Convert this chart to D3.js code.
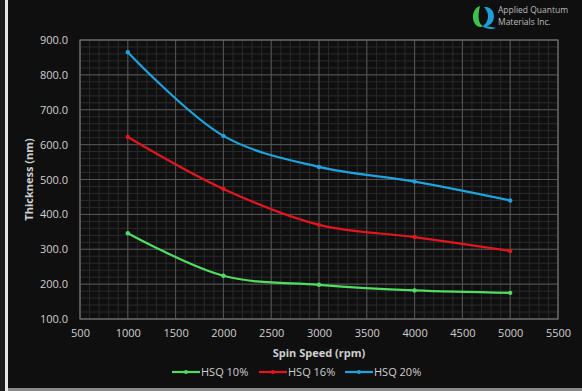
<!DOCTYPE html>
<html>
<head>
<meta charset="utf-8">
<script src="https://cdn.jsdelivr.net/npm/d3@7"></script>
<style>
  body { margin: 0; background: #0f0f0f; }
  svg { display: block; }
  text { font-family: "Open Sans", "Noto Sans", sans-serif; fill: #cfcfcf; }
</style>
</head>
<body>
<div id="chart"></div>
<script>
// data
const speeds = [1000, 2000, 3000, 4000, 5000];
const hsq10 = [346, 224, 198, 182, 175];
const hsq16 = [622, 473, 370, 335, 295];
const hsq20 = [865, 625, 536, 494, 440];
const seriesNames = ['HSQ 10%', 'HSQ 16%', 'HSQ 20%'];
const xTicks = [500, 1000, 1500, 2000, 2500, 3000, 3500, 4000, 4500, 5000, 5500];
const yTicks = [100, 200, 300, 400, 500, 600, 700, 800, 900];

const width = 582, height = 391;
const margin = { top: 40, right: 24, bottom: 72, left: 80 };
const colors = ['#52dc62', '#e3161e', '#1ea3dc'];

const svg = d3.select('#chart').append('svg')
  .attr('width', width)
  .attr('height', height);

// background + left frame strip
svg.append('rect').attr('width', width).attr('height', height).attr('fill', '#0f0f0f');
svg.append('rect').attr('x', 0).attr('y', 0).attr('width', 5).attr('height', height).attr('fill', '#1b1b1b');
svg.append('rect').attr('x', 5).attr('y', 0).attr('width', 3).attr('height', height).attr('fill', '#e6e6e6');
svg.append('rect').attr('x', 8).attr('y', height - 3).attr('width', width - 8).attr('height', 3).attr('fill', '#8a8a8a');

const x = d3.scaleLinear().domain([500, 5500]).range([margin.left, width - margin.right]);
const y = d3.scaleLinear().domain([100, 900]).range([height - margin.bottom, margin.top]);

const g = svg.append('g');

// minor grid
g.selectAll('.minor-x')
  .data(d3.range(500, 5501, 100))
  .enter().append('line')
  .attr('x1', d => x(d)).attr('x2', d => x(d))
  .attr('y1', y(100)).attr('y2', y(900))
  .attr('stroke', '#2a2a2a').attr('stroke-width', 1);

g.selectAll('.minor-y')
  .data(d3.range(100, 901, 20))
  .enter().append('line')
  .attr('y1', d => y(d)).attr('y2', d => y(d))
  .attr('x1', x(500)).attr('x2', x(5500))
  .attr('stroke', '#2a2a2a').attr('stroke-width', 1);

// major grid
g.selectAll('.major-x')
  .data(xTicks)
  .enter().append('line')
  .attr('x1', d => x(d)).attr('x2', d => x(d))
  .attr('y1', y(100)).attr('y2', y(900))
  .attr('stroke', '#555').attr('stroke-width', 1);

g.selectAll('.major-y')
  .data(yTicks)
  .enter().append('line')
  .attr('y1', d => y(d)).attr('y2', d => y(d))
  .attr('x1', x(500)).attr('x2', x(5500))
  .attr('stroke', '#555').attr('stroke-width', 1);

// plot border
g.append('rect')
  .attr('x', x(500)).attr('y', y(900))
  .attr('width', x(5500) - x(500)).attr('height', y(100) - y(900))
  .attr('fill', 'none').attr('stroke', '#6a6a6a').attr('stroke-width', 1.2);

// axes
const xAxis = svg.append('g')
  .attr('transform', `translate(0,${y(100)})`)
  .call(d3.axisBottom(x).tickValues(xTicks).tickSize(0).tickPadding(10).tickFormat(d3.format('d')));
const yAxis = svg.append('g')
  .attr('transform', `translate(${x(500)},0)`)
  .call(d3.axisLeft(y).tickValues(yTicks).tickSize(0).tickPadding(12).tickFormat(d3.format('.1f')));
[xAxis, yAxis].forEach(a => {
  a.select('.domain').remove();
  a.selectAll('text').style('font-size', '11px').style('fill', '#cfcfcf');
});

// axis titles
svg.append('text')
  .attr('x', (x(500) + x(5500)) / 2).attr('y', 357)
  .attr('text-anchor', 'middle')
  .style('font-size', '11px').style('font-weight', 'bold')
  .text('Spin Speed (rpm)');

svg.append('text')
  .attr('transform', `translate(33,${(y(100) + y(900)) / 2}) rotate(-90)`)
  .attr('text-anchor', 'middle')
  .style('font-size', '11px').style('font-weight', 'bold')
  .text('Thickness (nm)');

// series
const series = [hsq10, hsq16, hsq20];
const line = d3.line()
  .x((d, i) => x(speeds[i]))
  .y(d => y(d))
  .curve(d3.curveCatmullRom.alpha(0.5));

series.forEach((vals, s) => {
  svg.append('path')
    .datum(vals)
    .attr('d', line)
    .attr('fill', 'none')
    .attr('stroke', colors[s])
    .attr('stroke-width', 2.2);
  svg.selectAll('.pt' + s)
    .data(vals)
    .enter().append('circle')
    .attr('cx', (d, i) => x(speeds[i]))
    .attr('cy', d => y(d))
    .attr('r', 2.2)
    .attr('fill', colors[s]);
});

// legend
const legendX = [172, 259, 345];
const legend = svg.selectAll('.legend-item')
  .data(seriesNames)
  .enter().append('g')
  .attr('transform', (d, i) => `translate(${legendX[i]},372)`);
legend.append('line')
  .attr('x1', 0).attr('x2', 28).attr('y1', 0).attr('y2', 0)
  .attr('stroke', (d, i) => colors[i]).attr('stroke-width', 2.2);
legend.append('circle')
  .attr('cx', 14).attr('cy', 0).attr('r', 2)
  .attr('fill', (d, i) => colors[i]);
legend.append('text')
  .attr('x', 29).attr('y', 4)
  .style('font-size', '11px')
  .text(d => d);

// logo
const logo = svg.append('g').attr('transform', 'translate(470,4)');
logo.append('path')
  .attr('d', 'M10,2 C3,4 1,14 5,20 C7,23 11,24 13,22 C9,20 7,14 10,2 Z')
  .attr('fill', '#3cc24a');
logo.append('path')
  .attr('d', 'M14,3 C22,2 26,10 23,17 C21,21 17,23 13,22 C19,18 20,9 14,3 Z M12,22 C16,25 22,26 26,24 C22,23 18,22 12,22 Z')
  .attr('fill', '#1f9fd8');
logo.append('text')
  .attr('x', 28).attr('y', 9)
  .style('font-size', '8.5px').style('fill', '#bdbdbd')
  .text('Applied Quantum');
logo.append('text')
  .attr('x', 28).attr('y', 21)
  .style('font-size', '8.5px').style('fill', '#bdbdbd')
  .text('Materials Inc.');
</script>
</body>
</html>
